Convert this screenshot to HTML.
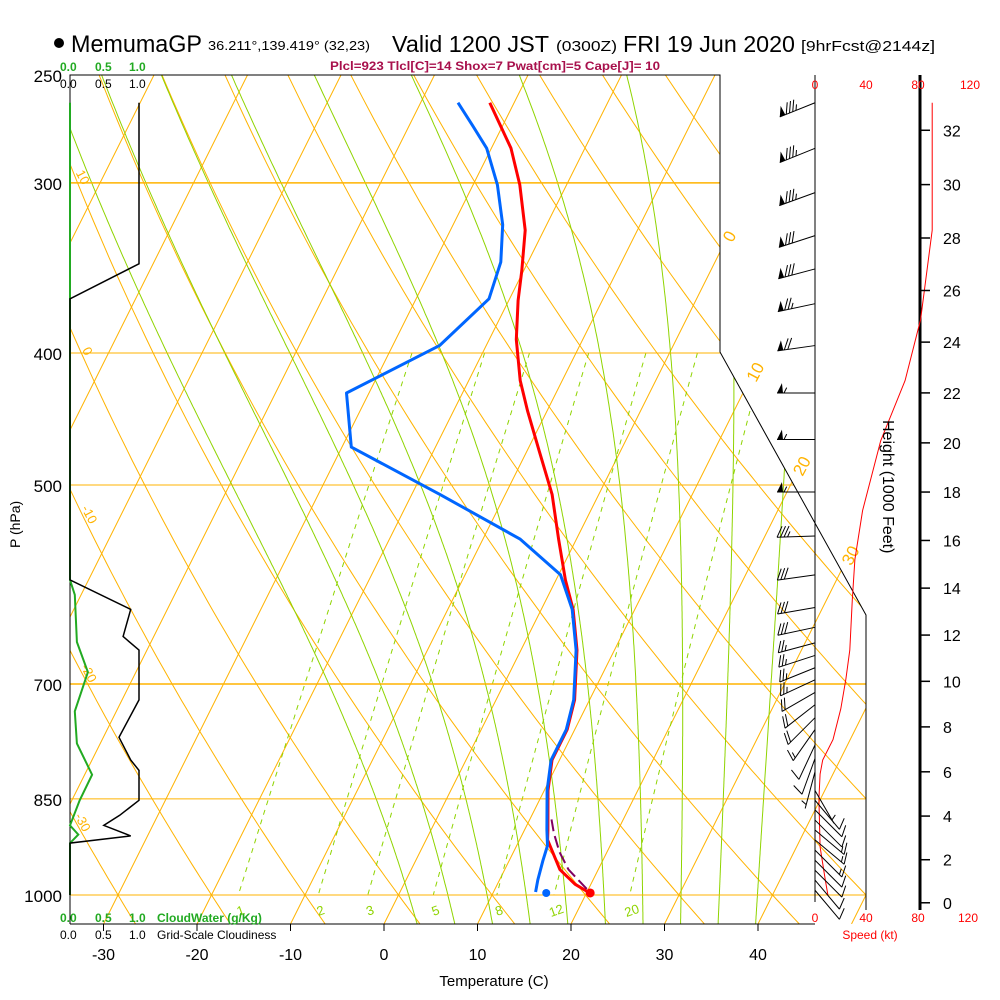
<!DOCTYPE html>
<html><head><meta charset="utf-8"><style>
html,body{margin:0;padding:0;background:#fff;}
svg{display:block;font-family:"Liberation Sans",sans-serif;}
</style></head><body>
<svg id="chart" width="1000" height="1000" viewBox="0 0 1000 1000" xmlns="http://www.w3.org/2000/svg">
<defs><clipPath id="plotclip"><polygon points="70,75 720,75 720,352 866,615 866,924 70,924"/></clipPath>
<clipPath id="plotclip2"><polygon points="70,75 720,75 720,352 866,615 866,895 70,895"/></clipPath></defs>
<g id="bg"></g>
<g id="frame" fill="none" stroke="#000" stroke-width="1">
<polyline points="70,924 70,75 720,75 720,352 866,615 866,910"/>
<line x1="70" y1="924" x2="815" y2="924"/>
<line x1="815" y1="75" x2="815" y2="902"/>
<line x1="920" y1="75" x2="920" y2="910" stroke-width="3"/>
</g>
<g id="marks"></g>
<g id="texts" font-size="16">
<circle cx="59" cy="43" r="5" fill="#000"/>
<text x="71" y="52" font-size="24" textLength="131" lengthAdjust="spacingAndGlyphs">MemumaGP</text>
<text x="208" y="50" font-size="13" textLength="162" lengthAdjust="spacingAndGlyphs">36.211°,139.419° (32,23)</text>
<text x="392" y="52" font-size="23" textLength="157" lengthAdjust="spacingAndGlyphs">Valid 1200 JST</text>
<text x="556" y="51" font-size="15" textLength="61" lengthAdjust="spacingAndGlyphs">(0300Z)</text>
<text x="623" y="52" font-size="23" textLength="172" lengthAdjust="spacingAndGlyphs">FRI 19 Jun 2020</text>
<text x="801" y="51" font-size="15" textLength="134" lengthAdjust="spacingAndGlyphs">[9hrFcst@2144z]</text>
<text x="330" y="70" font-size="12" font-weight="bold" fill="#a8104c" textLength="330" lengthAdjust="spacingAndGlyphs">Plcl=923 Tlcl[C]=14 Shox=7 Pwat[cm]=5 Cape[J]= 10</text>
<g font-size="12" fill="#22aa22" font-weight="bold"><text x="60" y="71">0.0</text><text x="95" y="71">0.5</text><text x="129" y="71">1.0</text></g>
<g font-size="12" fill="#000"><text x="60" y="88">0.0</text><text x="95" y="88">0.5</text><text x="129" y="88">1.0</text></g>
<g font-size="12" fill="#22aa22" font-weight="bold"><text x="60" y="922">0.0</text><text x="95" y="922">0.5</text><text x="129" y="922">1.0</text><text x="157" y="922">CloudWater (g/Kg)</text></g>
<g font-size="12" fill="#000"><text x="60" y="939">0.0</text><text x="95" y="939">0.5</text><text x="129" y="939">1.0</text><text x="157" y="939">Grid-Scale Cloudiness</text></g>
<text transform="translate(20,548) rotate(-90)" font-size="14">P (hPa)</text>
<text x="494" y="986" font-size="15" text-anchor="middle">Temperature (C)</text>
<text transform="translate(883,420) rotate(90)" font-size="16">Height (1000 Feet)</text>
<g font-size="12" fill="#ff0000" text-anchor="middle"><text x="815" y="89">0</text><text x="866" y="89">40</text><text x="918" y="89">80</text><text x="970" y="89">120</text></g>
<g font-size="12" fill="#ff0000" text-anchor="middle"><text x="815" y="922">0</text><text x="866" y="922">40</text><text x="918" y="922">80</text><text x="968" y="922">120</text></g>
<text x="870" y="939" font-size="12" fill="#ff0000" text-anchor="middle">Speed (kt)</text>
</g>
</svg>
<script>
// ---- data ----
const isobars = [300,400,500,700,850,1000];
const isobarLabels = ["250","300","400","500","700","850","1000"];
const isobarLabelP = [250,300,400,500,700,850,1000];
const tempTicks = [-30,-20,-10,0,10,20,30,40];
const tempTickLabels = ["-30","-20","-10","0","10","20","30","40"];
const mixRatios = [1,2,3,5,8,12,20];
const mixLabels = ["1","2","3","5","8","12","20"];
const moistStartT = [4,8,12,16,20,24,28,32,36,40];
const dryLabelTheta = [10,0,-10,-20,-30];
const dryLabelP = [295,398,520,680,875];
const isoLabelT = [0,10,20,30];
const isoLabelP = [330,418,490,570];
const tempP = [262,283,301,325,348,366,391,419,441,472,508,548,587,617,661,719,756,796,838,896,911,958,982,997];
const tempT = [-32.6,-27.9,-25.0,-22.0,-20.2,-19.0,-17.1,-14.5,-12.1,-8.7,-5.0,-1.9,1.0,3.4,6.0,8.4,9.2,9.2,10.4,12.5,13.0,15.9,18.3,20.4];
const dewP = [262,272,283,301,322,343,365,395,428,469,508,548,582,617,661,719,756,796,838,896,920,943,975,995];
const dewT = [-36.0,-33.3,-30.5,-27.4,-24.7,-22.9,-22.2,-25.0,-32.4,-29.0,-17.0,-6.0,0.2,3.3,5.9,8.3,9.1,9.1,10.3,12.4,13.3,13.6,14.1,14.5];
const sfcTemp = 20.5, sfcDew = 15.8;
const parcelP = [880,901,930,958,990];
const parcelT = [12.0,13.0,14.6,16.5,19.5];
const heightTicks = [0,2,4,6,8,10,12,14,16,18,20,22,24,26,28,30,32];
const speedP = [262,325,378,419,464,522,567,607,661,694,730,769,796,815,850,922,975,1000];
const speedKt = [91,91,82,70,51,37,31,29,27,24,20,14,6,4,3,4,8,10];
const barbP = [262,283,305,328,347,368,395,428,463,506,545,582,615,636,653,667,681,695,710,725,741,756,776,794,812,838,852,866,881,896,911,927,943,959,975,992];
const barbDir = [248,248,250,252,255,258,262,270,270,270,268,262,260,258,255,252,248,245,240,232,225,215,205,200,195,150,140,135,135,130,130,135,135,135,140,140];
const barbSpd = [85,85,85,80,80,75,70,55,55,55,35,30,30,28,27,26,25,24,22,20,18,15,12,8,5,5,10,10,12,15,15,15,12,12,10,10];
const cloudP = [262,344,365,587,617,646,661,719,766,796,810,852,874,889,905,916,1000];
const cloudF = [1,1,0,0,0.88,0.77,1,1,0.71,0.88,1,1,0.72,0.49,0.88,0,0];
const cwP = [262,587,602,652,686,733,774,816,852,889,903,916,1000];
const cwV = [0,0,0.07,0.1,0.26,0.07,0.1,0.32,0.14,0,0.12,0,0];

// ---- scales ----
const yP = p => 75 + 591.5*Math.log(p/250);
const xT = (T,y) => 384 + 9.35*T + 0.5*(924-y);
const xTP = (T,p) => xT(T,yP(p));
const xCloud = f => 70 + 69*f;
const xSpd = s => 815 + s*51.5/40;
const NS = "http://www.w3.org/2000/svg";
function mk(tag, attrs, parent){const e=document.createElementNS(NS,tag);for(const k in attrs)e.setAttribute(k,attrs[k]);parent.appendChild(e);return e;}
const svg = document.getElementById('chart');
const bg = document.getElementById('bg');
const marks = document.getElementById('marks');
const texts = document.getElementById('texts');
const ORANGE="#ffb300", GREEN="#8fd400";
const rightEdge = y => y<=352 ? 720 : (y>=615 ? 866 : 720 + (y-352)*146/263);

const gClip = mk('g',{'clip-path':'url(#plotclip)'},bg);


const gClip2 = mk('g',{'clip-path':'url(#plotclip2)'},bg);



// isotherms
for(let T=-150;T<=60;T+=10){
  const l=mk('line',{x1:xT(T,924),y1:924,x2:xT(T,75),y2:75,stroke:ORANGE,'stroke-width':1},gClip);
  
  
}
// dry adiabats
for(let th=-40;th<=200;th+=10){
  let pts=[];
  for(let p=240;p<=1080;p+=10){const T=(th+273.15)*Math.pow(p/1000,0.2857)-273.15;pts.push(xTP(T,p).toFixed(1)+','+yP(p).toFixed(1));}
  const l=mk('polyline',{points:pts.join(' '),fill:'none',stroke:ORANGE,'stroke-width':1},gClip);
  
  
}
// moist adiabats
function esat(T){return 6.112*Math.exp(17.67*T/(T+243.5));}
for(const T0 of moistStartT){
  let T=T0+273.15, pts=[];
  for(let p=1060;p>=240;p-=2){
    pts.push(xTP(T-273.15,p).toFixed(1)+','+yP(p).toFixed(1));
    const es=esat(T-273.15), rs=0.622*es/(p-es);
    const Lv=2.5e6,Rd=287,cp=1004;
    const dTdp=(Rd*T+Lv*rs)/(p*(cp+Lv*Lv*rs*0.622/(Rd*T*T)));
    T-=dTdp*2;
  }
  const l=mk('polyline',{points:pts.join(' '),fill:'none',stroke:GREEN,'stroke-width':1},gClip);
  
  
}
// mixing ratio lines
mixRatios.forEach((w,i)=>{
  let pts=[];
  for(let p=400;p<=1000;p+=10){const e=w*p/(622+w);const a=Math.log(e/6.112);const Td=243.5*a/(17.67-a);pts.push(xTP(Td,p).toFixed(1)+','+yP(p).toFixed(1));}
  const l=mk('polyline',{points:pts.join(' '),fill:'none',stroke:GREEN,'stroke-width':1,'stroke-dasharray':'5,5'},gClip2);
  
  
  const e=w*1000/(622+w);const a=Math.log(e/6.112);const Td=243.5*a/(17.67-a);
  const t=mk('text',{x:xTP(Td,1000)+2,y:915,'font-size':13,fill:GREEN,'text-anchor':'middle',transform:`rotate(-20 ${xTP(Td,1000)+2} 910)`},bg);
  t.textContent=mixLabels[i];
  
  
});
// isobars
isobars.forEach(p=>{
  const y=yP(p);
  const l=mk('line',{x1:70,y1:y,x2:rightEdge(y),y2:y,stroke:ORANGE,'stroke-width':(p==300||p==700)?1.5:1},bg);
  
  
});
isobarLabelP.forEach((p,i)=>{
  const t=mk('text',{x:62,y:yP(p)+7,'font-size':17,'text-anchor':'end'},texts);
  t.textContent=isobarLabels[i];
  
  
});
// dry adiabat labels
dryLabelTheta.forEach((th,i)=>{
  const p=dryLabelP[i];const T=(th+273.15)*Math.pow(p/1000,0.2857)-273.15;
  const x=xTP(T,p)+2, y=yP(p);
  if(x<72) return;
  const t=mk('text',{x:x,y:y,'font-size':13,fill:ORANGE,transform:`rotate(62 ${x} ${y})`},bg);
  t.textContent=String(th);
  
  
});
// isotherm labels
isoLabelT.forEach((T,i)=>{
  const p=isoLabelP[i];const x=xTP(T,p)+6,y=yP(p)+4;
  const t=mk('text',{x:x,y:y,'font-size':17,fill:ORANGE,transform:`rotate(-62 ${x} ${y})`},bg);
  t.textContent=String(T);
  
  
});
// temp ticks
tempTicks.forEach((T,i)=>{
  const x=xT(T,924);
  const l=mk('line',{x1:x,y1:924,x2:x,y2:931,stroke:'#000'},texts);
  
  
  const t=mk('text',{x:x,y:960,'font-size':16,'text-anchor':'middle'},texts);
  t.textContent=tempTickLabels[i];
  
  
});
// height ticks
heightTicks.forEach(h=>{
  const m=h*304.8;const p=1013.25*Math.pow(1-6.5e-3*m/288.15,5.2559);const y=yP(p);
  const l=mk('line',{x1:920,y1:y,x2:930,y2:y,stroke:'#000','stroke-width':1.5},texts);
  
  
  const t=mk('text',{x:943,y:y+6,'font-size':16},texts);
  t.textContent=String(h);
  
  
});
// cloud lines
function pl(ps,xs,attrs,name){const l=mk('polyline',Object.assign({points:ps.map((p,i)=>xs[i].toFixed(1)+','+yP(p).toFixed(1)).join(' '),fill:'none'},attrs),marks);return l;}
pl(cwP,cwV.map(xCloud),{stroke:'#22aa22','stroke-width':2},'cloudwater-line');
pl(cloudP,cloudF.map(xCloud),{stroke:'#000','stroke-width':1.5},'cloudiness-line');
// speed profile
pl(speedP,speedKt.map(xSpd),{stroke:'#ff0000','stroke-width':1},'wind-speed-line');
// temperature / dewpoint
pl(tempP,tempT.map((T,i)=>xTP(T,tempP[i])),{stroke:'#ff0000','stroke-width':3,'stroke-linejoin':'round'},'temperature-line');
pl(parcelP,parcelT.map((T,i)=>xTP(T,parcelP[i])+3),{stroke:'#800060','stroke-width':2,'stroke-dasharray':'12,5'},'parcel-line');
pl(dewP,dewT.map((T,i)=>xTP(T,dewP[i])),{stroke:'#0066ff','stroke-width':3,'stroke-linejoin':'round'},'dewpoint-line');
const c1=mk('circle',{cx:xTP(sfcTemp,1000),cy:yP(1000)-2,r:4.5,fill:'#ff0000'},marks);


const c2=mk('circle',{cx:xTP(sfcDew,1000),cy:yP(1000)-2,r:4,fill:'#0066ff'},marks);


// wind barbs
barbP.forEach((p,i)=>{
  const g=mk('g',{stroke:'#000','stroke-width':1,fill:'#000'},marks);
  
  
  const bx=815,by=yP(p),L=38;
  const a=barbDir[i]*Math.PI/180;
  const ux=Math.sin(a),uy=-Math.cos(a);
  const tx=bx+ux*L,ty=by+uy*L;
  mk('line',{x1:bx,y1:by,x2:tx,y2:ty},g);
  let nx=-uy,ny=ux; if(ny>0){nx=-nx;ny=-ny;}
  const fx=nx*0.9-ux*0.45, fy=ny*0.9-uy*0.45;
  let s=Math.round(barbSpd[i]/5)*5, pos=0;
  while(s>=50){const x0=tx-ux*pos,y0=ty-uy*pos,x1=tx-ux*(pos+6),y1=ty-uy*(pos+6);
    mk('polygon',{points:`${x0},${y0} ${x1},${y1} ${x0+fx*11},${y0+fy*11}`,stroke:'none'},g);pos+=7;s-=50;}
  while(s>=10){const x0=tx-ux*pos,y0=ty-uy*pos;mk('line',{x1:x0,y1:y0,x2:x0+fx*12,y2:y0+fy*12},g);pos+=3.5;s-=10;}
  if(s>=5){if(pos==0)pos=4;const x0=tx-ux*pos,y0=ty-uy*pos;mk('line',{x1:x0,y1:y0,x2:x0+fx*6,y2:y0+fy*6},g);}
});
</script>
</body></html>
